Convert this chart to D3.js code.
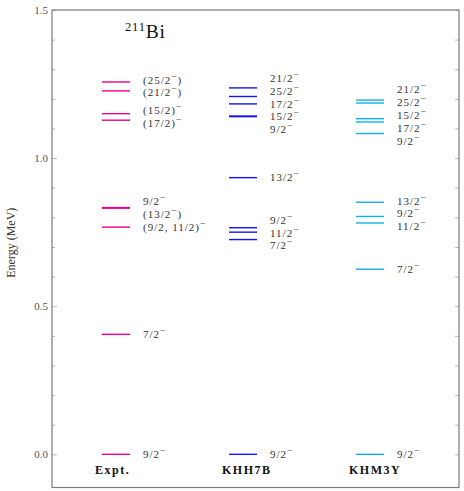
<!DOCTYPE html>
<html>
<head>
<meta charset="utf-8">
<script src="https://cdn.jsdelivr.net/npm/d3@7"></script>
<style>
  body { margin: 0; background: #fff; }
  text { font-family: "Liberation Serif", "DejaVu Serif", serif; }
</style>
</head>
<body>
<svg id="levels" width="464" height="491"></svg>
<script>
// level schemes of 211Bi, energies in MeV, "-" = negative parity
var models = ["Expt.", "KHH7B", "KHM3Y"];
var colors = ["#ec008c", "#1414f0", "#12aeea"];

var exptE = [0.0, 0.405, 0.767, 0.831, 0.833, 1.128, 1.150, 1.227, 1.257];
var exptJ = ["9/2-", "7/2-", "(9/2, 11/2)-", "(13/2-)", "9/2-", "(17/2)-", "(15/2)-", "(21/2-)", "(25/2-)"];

var khh7bE = [0.0, 0.725, 0.750, 0.765, 0.934, 1.140, 1.142, 1.183, 1.208, 1.237];
var khh7bJ = ["9/2-", "7/2-", "11/2-", "9/2-", "13/2-", "9/2-", "15/2-", "17/2-", "25/2-", "21/2-"];

var khm3yE = [0.0, 0.625, 0.781, 0.803, 0.851, 1.083, 1.122, 1.133, 1.186, 1.196];
var khm3yJ = ["9/2-", "7/2-", "11/2-", "9/2-", "13/2-", "9/2-", "17/2-", "15/2-", "25/2-", "21/2-"];

var majorTicks = [0.0, 0.5, 1.0, 1.5];
var minorTicks = [0.1, 0.2, 0.3, 0.4, 0.6, 0.7, 0.8, 0.9, 1.1, 1.2, 1.3, 1.4];

var energies = [exptE, khh7bE, khm3yE];
var spins = [exptJ, khh7bJ, khm3yJ];

// (window.top is read-only, so other names)
var xL = 52, xR = 459, yT = 10, yB = 487.5;
var svg = d3.select("#levels");

var y = d3.scaleLinear().domain([-0.112, 1.5]).range([yB, yT]);
var x = d3.scalePoint().domain(models).range([xL + 64, xL + 318]);
var halfW = 14;

// axes, ticks pointing inwards
var yl = svg.append("g").attr("transform", "translate(" + xL + ",0)")
  .call(d3.axisLeft(y).tickValues(majorTicks).tickFormat(d3.format(".1f")).tickSize(-5).tickPadding(4));
var ylm = svg.append("g").attr("transform", "translate(" + xL + ",0)")
  .call(d3.axisLeft(y).tickValues(minorTicks).tickFormat("").tickSize(-3));
var yr = svg.append("g").attr("transform", "translate(" + xR + ",0)")
  .call(d3.axisRight(y).tickValues(majorTicks.concat(minorTicks)).tickFormat("").tickSize(-4));

svg.selectAll(".domain").remove();
svg.selectAll(".tick line").attr("stroke", "#b8b8b8").attr("stroke-width", 1);
yl.selectAll(".tick text")
  .attr("font-size", 11)
  .attr("fill", "#555")
  .attr("font-family", "Liberation Serif");

svg.append("rect")
  .attr("x", xL)
  .attr("y", yT)
  .attr("width", xR - xL)
  .attr("height", yB - yT)
  .attr("fill", "none")
  .attr("stroke", "#7a7a7a")
  .attr("stroke-width", 1.2);

svg.append("text")
  .attr("transform", "translate(15," + ((yT + yB) / 2 - 6) + ") rotate(-90)")
  .attr("text-anchor", "middle")
  .attr("font-size", 12)
  .attr("fill", "#333")
  .text("Energy (MeV)");

// title
var title = svg.append("text")
  .attr("x", 125)
  .attr("y", 38)
  .attr("fill", "#111")
  .attr("letter-spacing", 0.8);
title.append("tspan").attr("font-size", 12.5).attr("dy", -7).text("211");
title.append("tspan").attr("font-size", 19.5).attr("dy", 7).text("Bi");

// spin labels: "-" becomes a raised minus
function writeSpin(sel, s) {
  var parts = s.split("-");
  var up = false;
  for (var k = 0; k < parts.length; k++) {
    if (parts[k] != "") {
      sel.append("tspan").attr("dy", up ? 4 : 0).attr("font-size", 11).text(parts[k]);
      up = false;
    }
    if (k < parts.length - 1) {
      sel.append("tspan").attr("dy", up ? 0 : -4).attr("font-size", 9.5).text("\u2212");
      up = true;
    }
  }
}

// push overlapping labels apart, keeping each cluster centred
function spread(ys, gap) {
  var groups = ys.map(function(v) { return { ys: [v], top: v }; });
  var merged = true;
  while (merged) {
    merged = false;
    for (var i = 0; i < groups.length - 1; i++) {
      var a = groups[i], b = groups[i + 1];
      if (a.top + a.ys.length * gap > b.top) {
        var all = a.ys.concat(b.ys);
        var c = { ys: all, top: d3.mean(all) - (all.length - 1) * gap / 2 };
        groups.splice(i, 2, c);
        merged = true;
        break;
      }
    }
  }
  var out = [];
  groups.forEach(function(g) {
    for (var j = 0; j < g.ys.length; j++) out.push(g.top + j * gap);
  });
  return out;
}

for (var m = 0; m < models.length; m++) {
  var cx = x(models[m]);
  var lev = energies[m].map(function(e, i) { return { e: e, j: spins[m][i] }; });
  lev.sort(function(a, b) { return b.e - a.e; });

  svg.append("g").selectAll("line")
    .data(lev)
    .join("line")
    .attr("x1", cx - halfW)
    .attr("x2", cx + halfW)
    .attr("y1", function(d) { return y(d.e); })
    .attr("y2", function(d) { return y(d.e); })
    .attr("stroke", colors[m])
    .attr("stroke-width", 1.4);

  var ly = spread(lev.map(function(d) { return y(d.e); }), 12.8);
  for (var i = 0; i < lev.length; i++) {
    var t = svg.append("text")
      .attr("x", cx + halfW + 13)
      .attr("y", ly[i] + 3.5)
      .attr("fill", "#333")
      .attr("letter-spacing", 1);
    writeSpin(t, lev[i].j);
  }

  svg.append("text")
    .attr("x", cx - halfW - 7)
    .attr("y", 474)
    .attr("font-size", 12)
    .attr("font-weight", "bold")
    .attr("letter-spacing", 1.5)
    .attr("fill", "#111")
    .text(models[m]);
}
</script>
</body>
</html>
